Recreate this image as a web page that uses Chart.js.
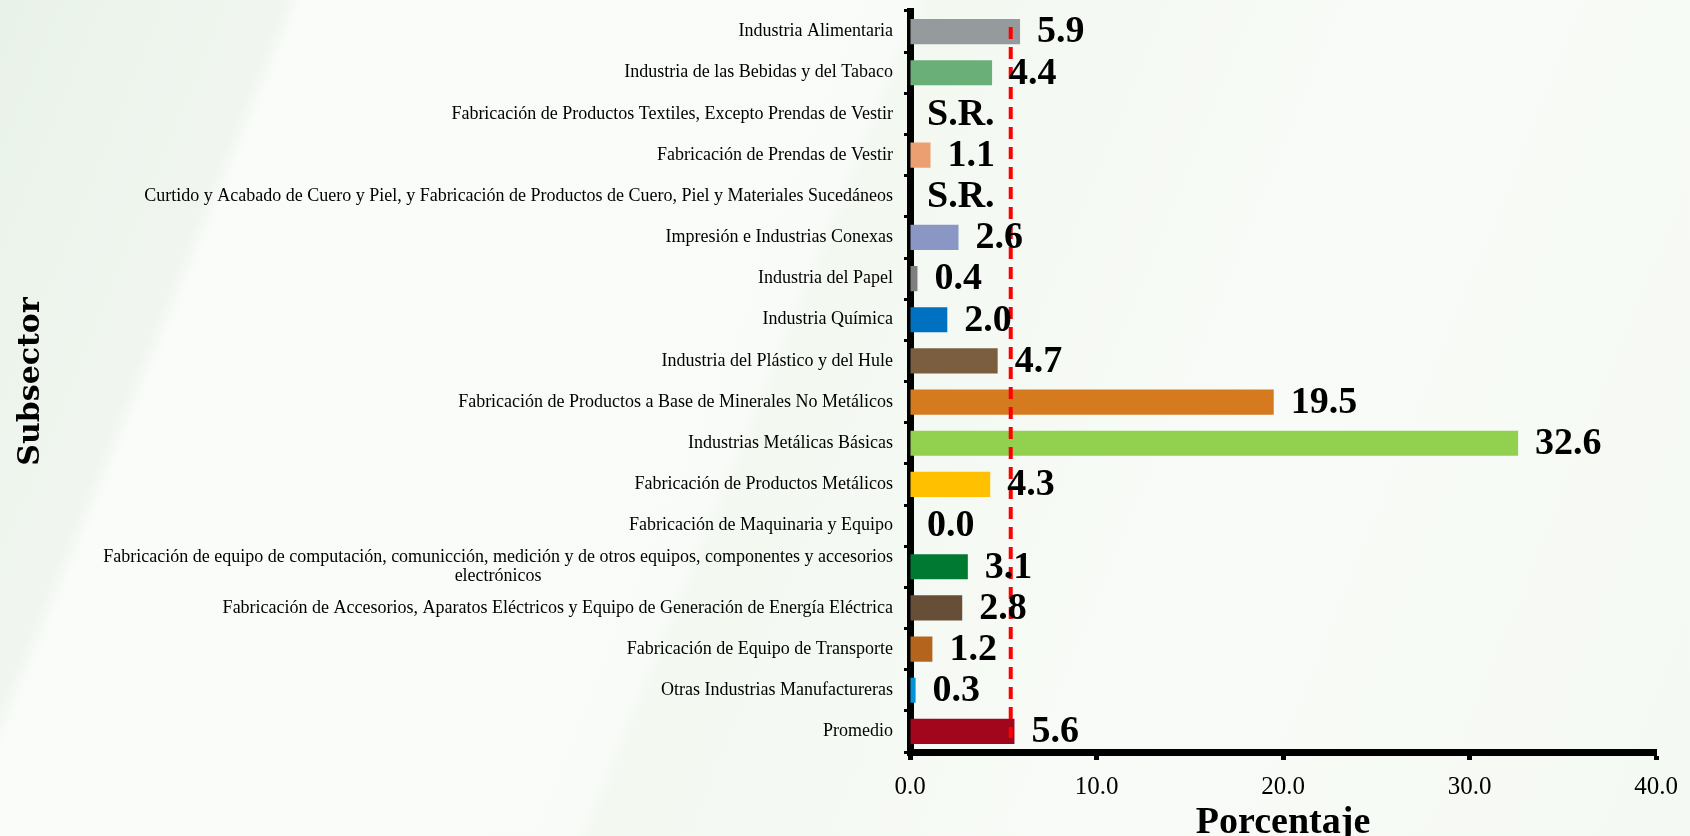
<!DOCTYPE html>
<html>
<head>
<meta charset="utf-8">
<script src="https://cdn.jsdelivr.net/npm/chart.js@4.4.1/dist/chart.umd.min.js"></script>
<style>
  html, body { margin: 0; padding: 0; }
  body {
    width: 1690px; height: 836px; overflow: hidden;
    background:
      linear-gradient(112deg, #e9f2e9 0%, #f0f6ef 14%, #fafcf9 15%, #f8fbf7 45%, #f3f8f1 46%, #f8fbf7 70%, #f5f9f3 100%);
  }
  #grafica { display: block; }
</style>
</head>
<body>
<canvas id="grafica" width="1690" height="836"></canvas>
<script>
// subsectores (de arriba hacia abajo)
const subsectores = [
  "Industria Alimentaria",
  "Industria de las Bebidas y del Tabaco",
  "Fabricación de Productos Textiles, Excepto Prendas de Vestir",
  "Fabricación de Prendas de Vestir",
  "Curtido y Acabado de Cuero y Piel, y Fabricación de Productos de Cuero, Piel y Materiales Sucedáneos",
  "Impresión e Industrias Conexas",
  "Industria del Papel",
  "Industria Química",
  "Industria del Plástico y del Hule",
  "Fabricación de Productos a Base de Minerales No Metálicos",
  "Industrias Metálicas Básicas",
  "Fabricación de Productos Metálicos",
  "Fabricación de Maquinaria y Equipo",
  ["Fabricación de equipo de computación, comunicción, medición y de otros equipos, componentes y accesorios", "electrónicos"],
  "Fabricación de Accesorios, Aparatos Eléctricos y Equipo de Generación de Energía Eléctrica",
  "Fabricación de Equipo de Transporte",
  "Otras Industrias Manufactureras",
  "Promedio"
];

// porcentaje, null = S.R. (sin registro)
const porcentajes = [5.9, 4.4, null, 1.1, null, 2.6, 0.4, 2.0, 4.7, 19.5, 32.6, 4.3, 0.0, 3.1, 2.8, 1.2, 0.3, 5.6];

const colores = [
  "#959a9c", "#6aae78", "#cccccc", "#eca072", "#cccccc", "#8a96c4", "#7f7f7f", "#0070c0",
  "#7b5e40", "#d57a1f", "#92d050", "#ffc000", "#888888", "#007a33", "#664f36", "#b4641c",
  "#0094d6", "#a1061d"
];

const lineaPromedio = 5.4;
const ticksX = [0, 10, 20, 30, 40];

// linea punteada roja del promedio
const promedioPlugin = {
  id: "promedio",
  afterDatasetsDraw(chart) {
    const { ctx, chartArea, scales } = chart;
    const x = scales.x.getPixelForValue(lineaPromedio);
    ctx.save();
    ctx.strokeStyle = "#ff0000";
    ctx.lineWidth = 4;
    ctx.setLineDash([12, 8]);
    ctx.beginPath();
    ctx.moveTo(x, chartArea.top + 16);
    ctx.lineTo(x, chartArea.bottom - 14);
    ctx.stroke();
    ctx.restore();
  }
};

// etiquetas de valores y de subsectores
const etiquetasPlugin = {
  id: "etiquetas",
  afterDraw(chart) {
    const { ctx, chartArea, scales } = chart;
    ctx.save();
    ctx.fillStyle = "#000";
    ctx.textBaseline = "middle";

    // valores
    ctx.font = 'bold 38px "Liberation Serif"';
    ctx.textAlign = "left";
    porcentajes.forEach((v, i) => {
      const y = scales.y.getPixelForValue(i);
      const x = scales.x.getPixelForValue(v == null ? 0 : v);
      const txt = v == null ? "S.R." : v.toFixed(1);
      ctx.fillText(txt, x + 17, y + 1);
    });

    // nombres de subsectores
    ctx.font = '18px "Liberation Serif"';
    const xr = chartArea.left - 17;
    subsectores.forEach((lab, i) => {
      const y = scales.y.getPixelForValue(i);
      if (Array.isArray(lab)) {
        ctx.textAlign = "right";
        const w = ctx.measureText(lab[0]).width;
        ctx.fillText(lab[0], xr, y - 9.5);
        ctx.textAlign = "center";
        ctx.fillText(lab[1], xr - w / 2, y + 9.5);
      } else {
        ctx.textAlign = "right";
        ctx.fillText(lab, xr, y);
      }
    });
    ctx.restore();
  }
};

Chart.defaults.font.family = '"Liberation Serif", serif';
Chart.defaults.color = "#000";

new Chart(document.getElementById("grafica").getContext("2d"), {
  type: "bar",
  data: {
    labels: subsectores,
    datasets: [{
      data: porcentajes,
      backgroundColor: colores,
      borderWidth: 0,
      categoryPercentage: 1,
      barPercentage: 0.61
    }]
  },
  options: {
    indexAxis: "y",
    responsive: false,
    animation: false,
    devicePixelRatio: 1,
    layout: { padding: { top: 11, right: 30, bottom: 0, left: 0 } },
    plugins: { legend: { display: false }, tooltip: { enabled: false } },
    scales: {
      x: {
        min: 0,
        max: 40,
        afterBuildTicks: (scale) => { scale.ticks = ticksX.map((v) => ({ value: v })); },
        afterFit: (scale) => { scale.height = 84; },
        ticks: {
          callback: (v) => Number(v).toFixed(1),
          font: { size: 25 },
          color: "#000",
          padding: 12,
          maxRotation: 0
        },
        grid: { drawOnChartArea: false, tickLength: 8, tickWidth: 5, tickColor: "#000" },
        border: { display: true, width: 7, color: "#000" },
        title: {
          display: true,
          text: "Porcentaje",
          font: { size: 38, weight: "bold", lineHeight: 0.65 },
          color: "#000",
          padding: 0
        }
      },
      y: {
        afterFit: (scale) => { scale.width = 910; },
        ticks: { display: false },
        grid: { drawOnChartArea: false, tickLength: 6, tickWidth: 3, tickColor: "#000" },
        border: { display: true, width: 7, color: "#000" },
        title: {
          display: true,
          text: "Subsector",
          font: { family: '"DejaVu Serif"', size: 30, weight: "bold", lineHeight: 1.2 },
          color: "#000",
          padding: { top: 13, bottom: 0 }
        }
      }
    }
  },
  plugins: [promedioPlugin, etiquetasPlugin]
});
</script>
</body>
</html>
